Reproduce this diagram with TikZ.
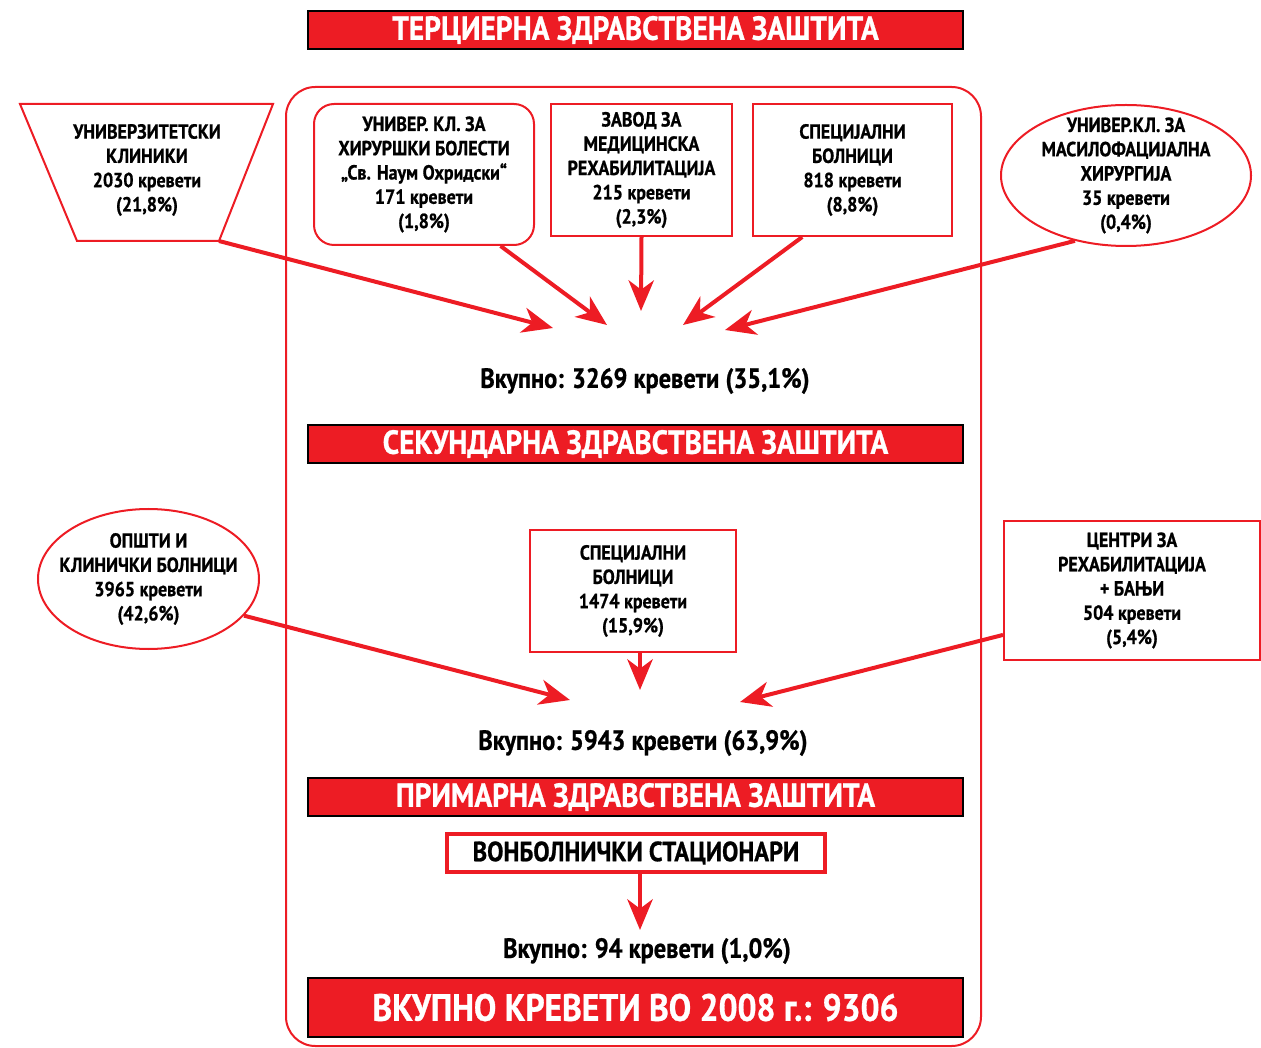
\documentclass[tikz,border=0pt]{standalone}
\usepackage{fontspec}
\setmainfont{PT Sans}[FakeStretch=0.88, BoldFeatures={FakeBold=0.8}]
\usetikzlibrary{arrows.meta,shapes.geometric,calc}
\definecolor{barred}{HTML}{ED1C24}

\begin{document}
\begin{tikzpicture}[x=0.75pt,y=-0.75pt,
	every node/.style={inner sep=0pt, align=center, font=\bfseries\fontsize{15.3}{18.2}\selectfont},
	bar/.style={draw=black, line width=1.5pt, fill=barred, minimum width=491.25pt, minimum height=28.5pt, text=white, font=\bfseries\fontsize{25}{26}\selectfont},
	box/.style={draw=barred, line width=1.5pt},
	total/.style={font=\bfseries\fontsize{20.8}{24}\selectfont},
	arr/.style={draw=barred, line width=3pt, -{Stealth[length=23pt,width=19pt,inset=7pt]}}]
	\useasboundingbox (0,0) rectangle (1261,1048);
	% frame round the three levels
	\draw[barred, line width=1.5pt, rounded corners=22pt] (286,87) rectangle (981,1046);
	% tertiary level
	\node (terc) [bar] at (635.5,30) {ТЕРЦИЕРНА ЗДРАВСТВЕНА ЗАШТИТА};
	\draw[box] (20,104) coordinate (uktl) -- (273,104) -- (219,241) coordinate (ukbr) -- (77,241) -- cycle;
	\node (uk) at (147,170) {УНИВЕРЗИТЕТСКИ\\КЛИНИКИ\\2030 кревети\\(21,8\%)};
	\node (hir) [box, rounded corners=15pt, minimum width=165pt, minimum height=105.75pt] at (424,174.5)
		{УНИВЕР. КЛ. ЗА\\ХИРУРШКИ БОЛЕСТИ\\„Св. Наум Охридски“\\171 кревети\\(1,8\%)};
	\node (zavod) [box, minimum width=135.75pt, minimum height=99pt] at (641.5,170)
		{ЗАВОД ЗА\\МЕДИЦИНСКА\\РЕХАБИЛИТАЦИЈА\\215 кревети\\(2,3\%)};
	\node (spec1) [box, minimum width=149.25pt, minimum height=99pt] at (852.5,170)
		{СПЕЦИЈАЛНИ\\БОЛНИЦИ\\818 кревети\\(8,8\%)};
	\node (masil) [box, ellipse, inner xsep=-4pt, inner ysep=-10pt, minimum width=187.5pt, minimum height=105.75pt] at (1126,175.5)
		{УНИВЕР.КЛ. ЗА\\МАСИЛОФАЦИЈАЛНА\\ХИРУРГИЈА\\35 кревети\\(0,4\%)};
	\coordinate (t1) at (553,328);
	\coordinate (t2) at (607,325);
	\coordinate (t3) at (641,311);
	\coordinate (t4) at (683,325);
	\coordinate (t5) at (725,330);
	\draw[arr] (ukbr) -- (t1);
	\draw[arr] ($(hir.south)!0.69!(hir.south east)$) -- (t2);
	\draw[arr] (zavod.south) -- (t3);
	\draw[arr] ($(spec1.south)!0.5!(spec1.south west)$) -- (t4);
	\draw[arr] (masil.232) -- (t5);
	\node (tot1) [total] at (645,381) {Вкупно: 3269 кревети (35,1\%)};
	% secondary level
	\node (sek) [bar] at (635.5,444) {СЕКУНДАРНА ЗДРАВСТВЕНА ЗАШТИТА};
	\node (opsti) [box, ellipse, inner xsep=-14pt, inner ysep=-4pt, minimum width=165.75pt, minimum height=105pt] at (148.5,579)
		{ОПШТИ И\\КЛИНИЧКИ БОЛНИЦИ\\3965 кревети\\(42,6\%)};
	\node (spec2) [box, minimum width=154.5pt, minimum height=91.5pt] at (633,591)
		{СПЕЦИЈАЛНИ\\БОЛНИЦИ\\1474 кревети\\(15,9\%)};
	\node (centri) [box, minimum width=192pt, minimum height=104.25pt] at (1132,590.5)
		{ЦЕНТРИ ЗА\\РЕХАБИЛИТАЦИЈА\\+ БАЊИ\\504 кревети\\(5,4\%)};
	\coordinate (s1) at (570,700);
	\coordinate (s2) at (640,690);
	\coordinate (s3) at (740,702);
	\draw[arr] (opsti.-21) -- (s1);
	\draw[arr] (spec2.south -| s2) -- (s2);
	\draw[arr] (centri.199) -- (s3);
	\node (tot2) [total] at (643,743) {Вкупно: 5943 кревети (63,9\%)};
	% primary level
	\node (prim) [bar] at (635.5,797) {ПРИМАРНА ЗДРАВСТВЕНА ЗАШТИТА};
	\node (vonb) [draw=barred, line width=3pt, minimum width=283.5pt, minimum height=28.5pt,
		font=\bfseries\fontsize{20.8}{22}\selectfont] at (636,853) {ВОНБОЛНИЧКИ СТАЦИОНАРИ};
	\coordinate (p1) at (640,930);
	\draw[arr] (vonb.south -| p1) -- (p1);
	\node (tot3) [total] at (647,951) {Вкупно: 94 кревети (1,0\%)};
	\node (vk) [bar, minimum height=44.25pt, font=\bfseries\fontsize{28.5}{32}\selectfont] at (635.5,1007.5)
		{ВКУПНО КРЕВЕТИ ВО 2008 г.: 9306};
\end{tikzpicture}
\end{document}
